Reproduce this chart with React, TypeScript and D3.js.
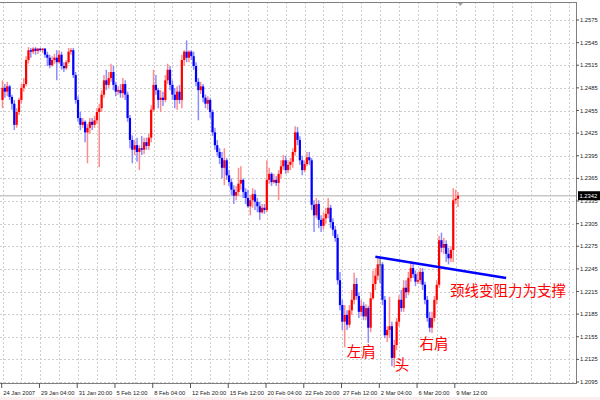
import React from 'react';
import * as d3 from 'd3';

// EURUSD H4 candles (prices in pips, divide by 10000)
const opens = [
  12469,12485,12480,12487,12473,12464,12436,12453,12469,12485,
  12490,12522,12535,12533,12537,12534,12537,12535,12537,12529,
  12525,12515,12522,12525,12519,12529,12514,12511,12519,12533,
  12535,12502,12469,12445,12436,12440,12426,12432,12440,12436,
  12442,12453,12458,12476,12495,12489,12498,12506,12489,12480,
  12482,12478,12490,12476,12445,12416,12403,12409,12400,12405,
  12403,12413,12408,12419,12456,12489,12482,12469,12472,12469,
  12495,12509,12489,12476,12469,12480,12469,12522,12533,12525,
  12533,12527,12514,12493,12482,12487,12472,12464,12469,12453,
  12426,12409,12400,12392,12379,12389,12369,12360,12350,12342,
  12347,12358,12363,12347,12339,12328,12336,12344,12334,12328,
  12320,12326,12323,12363,12371,12360,12363,12359,12371,12381,
  12389,12376,12383,12387,12400,12426,12416,12389,12376,12384,
  12393,12389,12330,12316,12331,12310,12302,12312,12318,12326,
  12307,12297,12286,12230,12197,12175,12184,12171,12190,12204,
  12225,12209,12188,12196,12182,12193,12167,12206,12225,12236,
  12251,12251,12204,12157,12164,12169,12127,12144,12175,12204,
  12193,12220,12214,12233,12246,12238,12228,12230,12241,12224,
  12204,12180,12167,12180,12204,12224,12283,12273,12278,12265,
  12259,12270,12336,12338,
];
const highs = [
  12495,12490,12493,12489,12476,12469,12458,12472,12490,12498,
  12527,12539,12538,12539,12539,12538,12538,12538,12538,12533,
  12529,12527,12530,12535,12535,12533,12519,12522,12538,12538,
  12538,12506,12474,12453,12445,12442,12437,12445,12445,12448,
  12458,12464,12482,12502,12509,12506,12517,12514,12493,12487,
  12490,12498,12495,12480,12449,12422,12416,12419,12409,12421,
  12419,12419,12424,12462,12509,12502,12485,12482,12480,12502,
  12517,12514,12495,12485,12487,12489,12529,12535,12548,12535,
  12535,12533,12519,12498,12493,12490,12476,12474,12472,12456,
  12432,12416,12405,12400,12405,12392,12376,12365,12356,12355,
  12379,12381,12365,12352,12350,12343,12352,12350,12339,12334,
  12331,12331,12389,12379,12373,12371,12368,12376,12389,12396,
  12395,12389,12392,12405,12434,12433,12421,12395,12389,12400,
  12400,12392,12336,12339,12336,12316,12320,12326,12339,12330,
  12312,12302,12291,12241,12204,12197,12190,12197,12217,12240,
  12233,12214,12204,12201,12198,12196,12214,12243,12246,12259,
  12259,12254,12209,12169,12208,12175,12151,12180,12210,12217,
  12230,12230,12241,12254,12254,12243,12241,12246,12246,12228,
  12209,12188,12188,12209,12230,12289,12293,12286,12283,12273,
  12275,12352,12350,12347,
];
const lows = [
  12458,12472,12474,12469,12456,12429,12432,12449,12464,12480,
  12487,12517,12525,12530,12529,12530,12533,12531,12525,12514,
  12511,12513,12517,12495,12517,12509,12506,12509,12517,12529,
  12498,12464,12440,12429,12432,12413,12385,12424,12429,12432,
  12437,12380,12453,12472,12482,12485,12493,12482,12474,12476,
  12472,12472,12469,12440,12405,12385,12396,12387,12376,12396,
  12397,12403,12403,12413,12453,12476,12458,12453,12461,12466,
  12490,12482,12469,12458,12456,12464,12458,12514,12519,12519,
  12522,12509,12487,12442,12477,12466,12458,12456,12445,12421,
  12403,12395,12384,12365,12356,12363,12355,12343,12331,12336,
  12342,12350,12339,12331,12326,12316,12326,12323,12320,12310,
  12318,12318,12320,12358,12355,12358,12355,12336,12365,12376,
  12371,12372,12376,12379,12395,12409,12383,12369,12373,12381,
  12383,12323,12294,12312,12299,12294,12297,12305,12312,12299,
  12289,12281,12224,12190,12164,12141,12164,12167,12184,12198,
  12204,12180,12182,12177,12177,12147,12161,12204,12217,12230,
  12226,12197,12153,12148,12153,12116,12114,12137,12169,12188,
  12188,12206,12210,12228,12233,12222,12225,12225,12217,12198,
  12175,12161,12160,12175,12198,12220,12267,12265,12254,12251,
  12254,12254,12331,12327,
];
const closes = [
  12485,12480,12487,12473,12464,12436,12453,12469,12485,12490,
  12522,12535,12533,12537,12534,12537,12535,12537,12529,12525,
  12515,12522,12525,12519,12529,12514,12511,12519,12533,12535,
  12502,12469,12445,12436,12440,12426,12432,12440,12436,12442,
  12453,12458,12476,12495,12489,12498,12506,12489,12480,12482,
  12478,12490,12476,12445,12416,12403,12409,12400,12405,12403,
  12413,12408,12419,12456,12489,12482,12469,12472,12469,12495,
  12509,12489,12476,12469,12480,12469,12522,12533,12525,12533,
  12527,12514,12493,12482,12487,12472,12464,12469,12453,12426,
  12409,12400,12392,12379,12389,12369,12360,12350,12342,12347,
  12358,12363,12347,12339,12328,12336,12344,12334,12328,12320,
  12326,12323,12363,12371,12360,12363,12359,12371,12381,12389,
  12376,12383,12387,12400,12426,12416,12389,12376,12384,12393,
  12389,12330,12316,12331,12310,12302,12312,12318,12326,12307,
  12297,12286,12230,12197,12175,12184,12171,12190,12204,12225,
  12209,12188,12196,12182,12193,12167,12206,12225,12236,12251,
  12251,12204,12157,12164,12169,12127,12144,12175,12204,12193,
  12220,12214,12233,12246,12238,12228,12230,12241,12224,12204,
  12180,12167,12180,12204,12224,12283,12273,12278,12265,12259,
  12270,12336,12338,12342,
];

const xTickLabels = [
  '24 Jan 2007', '29 Jan 04:00', '31 Jan 20:00', '5 Feb 12:00', '8 Feb 04:00',
  '12 Feb 20:00', '15 Feb 12:00', '20 Feb 04:00', '22 Feb 20:00', '27 Feb 12:00',
  '2 Mar 04:00', '6 Mar 20:00', '9 Mar 12:00',
];
const barsPerLabel = 16;
const barsPerGrid = 8;
const totalSlots = 242;

const yTicks = [
  1.2575, 1.2545, 1.2515, 1.2485, 1.2455, 1.2425, 1.2395, 1.2365, 1.2335,
  1.2305, 1.2275, 1.2245, 1.2215, 1.2185, 1.2155, 1.2125, 1.2095,
];
const currentPrice = 1.2342;

const necklineBars = [158, 213.4];
const necklinePrices = [1.2261, 1.2233];

const annotationTexts = ['左肩', '头', '右肩', '颈线变阻力为支撑'];
const annotationBars = [152, 169.3, 182.8, 189.6];
const annotationPrices = [1.2137, 1.2120, 1.2147, 1.2218];
const annotationAnchors = ['middle', 'middle', 'middle', 'start'];

export default function App() {
  const W = 600;
  const H = 400;
  const plotLeft = 0;
  const plotRight = 576;
  const plotTop = 2;
  const plotBottom = 383;

  const x = d3.scaleLinear().domain([0, 240]).range([2.5, 2.5 + 240 * 2.36]);
  const y = d3.scaleLinear().domain([1.2095, 1.2575]).range([382, 20]);
  const p = (v: number) => v / 10000;

  const gridXs = d3.range(0, totalSlots, barsPerGrid).map((i) => x(i)).filter((v) => v < plotRight - 1);

  const upColor = '#ff0000';
  const downColor = '#0000ff';
  const upWick = '#ff8c8c';
  const downWick = '#8c8cff';
  const axisFont = '"Liberation Sans", Arial, sans-serif';

  const line = d3
    .line<number>()
    .x((_, i) => x(necklineBars[i]))
    .y((d) => y(d));

  const curY = y(currentPrice);

  return (
    <svg width={W} height={H} style={{ position: 'absolute', left: 0, top: 0, background: '#ffffff' }}>
      <rect x={0} y={0} width={W} height={H} fill="#ffffff" />
      <rect x={0} y={397} width={W} height={3} fill="#fbeeee" />
      {/* grid */}
      <g stroke="#cdcdcd" strokeWidth={1} strokeDasharray="2 2" shapeRendering="crispEdges">
        {yTicks.map((t) => (
          <line key={'h' + t} x1={plotLeft} x2={plotRight} y1={Math.round(y(t)) + 0.5} y2={Math.round(y(t)) + 0.5} />
        ))}
        {gridXs.map((gx, i) => (
          <line key={'v' + i} x1={Math.round(gx) + 0.5} x2={Math.round(gx) + 0.5} y1={plotTop} y2={plotBottom} />
        ))}
      </g>
      {/* current price line */}
      <line x1={plotLeft} x2={plotRight} y1={curY} y2={curY} stroke="#c8c8c8" strokeWidth={1.5} />
      {/* wicks */}
      <g>
        {closes.map((c, i) => {
          const o = opens[i];
          const col = c > o ? upWick : c < o ? downWick : '#8a8a8a';
          return (
            <line key={'w' + i} x1={x(i)} x2={x(i)} y1={y(p(highs[i]))} y2={y(p(lows[i]))} stroke={col} strokeWidth={1.5} />
          );
        })}
      </g>
      {/* bodies */}
      <g>
        {closes.map((c, i) => {
          const o = opens[i];
          const col = c > o ? upColor : c < o ? downColor : '#555555';
          const y1 = Math.min(y(p(o)), y(p(c)));
          const h = Math.max(1, Math.abs(y(p(o)) - y(p(c))));
          return <rect key={'b' + i} x={x(i) - 1.1} y={y1} width={2.2} height={h} fill={col} />;
        })}
      </g>
      {/* neckline */}
      <path d={line(necklinePrices) || ''} stroke="#0000ff" strokeWidth={2.5} fill="none" />
      {/* annotations */}
      {annotationTexts.map((t, i) => (
        <text
          key={'a' + i}
          x={x(annotationBars[i])}
          y={y(annotationPrices[i])}
          fill="#ff0000"
          fontSize={14.5}
          fontFamily='"Noto Sans CJK SC", sans-serif'
          textAnchor={annotationAnchors[i] as any}
          dominantBaseline="central"
        >
          {t}
        </text>
      ))}
      {/* frame */}
      <g stroke="#808080" strokeWidth={1} shapeRendering="crispEdges">
        <line x1={plotLeft} x2={plotRight} y1={plotTop + 0.5} y2={plotTop + 0.5} />
        <line x1={plotRight + 0.5} x2={plotRight + 0.5} y1={plotTop} y2={plotBottom + 1} />
        <line x1={plotLeft} x2={plotRight} y1={plotBottom + 0.5} y2={plotBottom + 0.5} />
      </g>
      {/* shift marker */}
      <path d={`M${x(194) - 2.5},${plotTop + 1} L${x(194) + 2.5},${plotTop + 1} L${x(194)},${plotTop + 4} Z`} fill="#a0a0a0" />
      {/* y axis */}
      <g fontFamily={axisFont} fontSize={5.8} fill="#222">
        {yTicks.map((t) => (
          <g key={'yt' + t}>
            <line x1={plotRight} x2={plotRight + 3} y1={y(t)} y2={y(t)} stroke="#555" strokeWidth={1} />
            <text x={plotRight + 4} y={y(t)} dominantBaseline="central">
              {t.toFixed(4)}
            </text>
          </g>
        ))}
      </g>
      {/* current price box */}
      <rect x={plotRight + 2} y={curY - 4.5} width={22} height={9} fill="#000" />
      <text x={plotRight + 3.5} y={curY} fontFamily={axisFont} fontSize={5.8} fill="#fff" dominantBaseline="central">
        {currentPrice.toFixed(4)}
      </text>
      {/* x axis */}
      <g fontFamily={axisFont} fontSize={5.8} fill="#222">
        {xTickLabels.map((lab, k) => {
          const tx = x(k * barsPerLabel) - 0.8;
          return (
            <g key={'xt' + k}>
              <line x1={tx} x2={tx} y1={plotBottom} y2={plotBottom + 5} stroke="#555" strokeWidth={1} />
              <text x={tx + 1.5} y={393} dominantBaseline="central">
                {lab}
              </text>
            </g>
          );
        })}
      </g>
    </svg>
  );
}
